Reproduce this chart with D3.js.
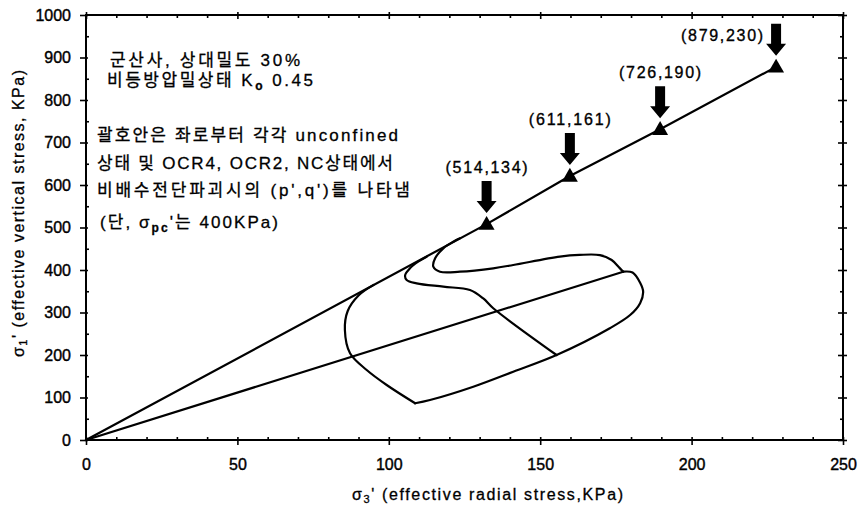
<!DOCTYPE html>
<html><head><meta charset="utf-8">
<script src="https://cdn.jsdelivr.net/npm/d3@7"></script>
<style>body{margin:0;background:#fff}svg{display:block}</style>
</head><body><svg id="c" width="861" height="512"></svg>
<script>
// ---- data (σ3', σ1') in kPa ----
const xTicks = [0, 50, 100, 150, 200, 250];
const yTicks = [0, 100, 200, 300, 400, 500, 600, 700, 800, 900, 1000];
const koLine = [[0, 0], [177.4, 396]];
const failS3 = [132.3, 159.8, 189.6, 227.9];
const failS1 = [508, 621, 731, 878];
const failLabels = ["(514,134)", "(611,161)", "(726,190)", "(879,230)"];
const unloadPath = [[177.4,396],[180.5,394],[183,370],[184,349],[183,322],[179.7,294],[173,263],[155.4,200],[141.1,160.7],[127.9,125.4],[113.6,94],[108.7,86.4]];
const ocr4Path = [[108.7,86.4],[99.3,129.4],[92.7,164.7],[87.2,204],[85.5,258.8],[86.4,303],[90,340],[95,365]];
const ocr2Path = [[155.4,200],[134.5,310],[131.2,333],[126.8,353],[118,360.7],[109.2,368.7],[105.9,376.5],[105.4,388],[107,404],[109.7,419.5],[112.5,431.3]];
const ncPath = [[177.4,396],[176.2,405],[173.6,423.5],[169.7,435],[163,435.5],[156.5,431.5],[141.1,411.8],[134.5,404],[123.5,396],[116.9,396],[114.7,407.8],[115.3,427.5],[118,451],[121.3,466.6],[123.5,474.6]];
const noteLines = [
  ["군산사, 상대밀도 30%"],
  ["비등방압밀상태 K", "o", " 0.45"],
  ["괄호안은 좌로부터 각각 unconfined"],
  ["상태 및 OCR4, OCR2, NC상태에서"],
  ["비배수전단파괴시의 (p',q')를 나타냄"],
  ["(단, σ", "pc", "'는 400KPa)"]
];

const svg = d3.select("#c");
const FONT = "'Liberation Sans', Arial, 'Noto Sans CJK KR', sans-serif";
svg.append("rect").attr("width",861).attr("height",512).attr("fill","#fff");

const x = d3.scaleLinear().domain([0,250]).range([86,843]);
const y = d3.scaleLinear().domain([0,1000]).range([440,15]);

const xMinor = d3.range(0,251,10).filter(v=>v%50);
const yMinor = d3.range(0,1001,50).filter(v=>v%100);

function axisG(axis, tr){
  const g = svg.append("g").attr("transform",tr).call(axis);
  g.select(".domain").remove();
  g.selectAll("line").attr("stroke","#000").attr("stroke-width",1.6);
  return g;
}
const B = "translate(0,440)", T = "translate(0,15)", L = "translate(86,0)", R = "translate(843,0)";
// bottom
const gb = axisG(d3.axisBottom(x).tickValues(xTicks).tickSize(5).tickFormat(d3.format("d")), B);
gb.selectAll("text").attr("y",30).attr("dy",0);
axisG(d3.axisBottom(x).tickValues(xTicks).tickSize(-3).tickFormat(""), B);
axisG(d3.axisBottom(x).tickValues(xMinor).tickSize(-3).tickFormat(""), B);
// top
axisG(d3.axisTop(x).tickValues(xTicks).tickSize(3).tickFormat(""), T);
axisG(d3.axisTop(x).tickValues(xTicks).tickSize(-4).tickFormat(""), T);
axisG(d3.axisTop(x).tickValues(xMinor).tickSize(-3).tickFormat(""), T);
// left
const gl = axisG(d3.axisLeft(y).tickValues(yTicks).tickSize(6).tickFormat(d3.format("d")), L);
gl.selectAll("text").attr("x",-15);
axisG(d3.axisLeft(y).tickValues(yTicks).tickSize(-2).tickFormat(""), L);
axisG(d3.axisLeft(y).tickValues(yMinor).tickSize(-3).tickFormat(""), L);
// right
axisG(d3.axisRight(y).tickValues(yTicks).tickSize(4).tickFormat(""), R);
axisG(d3.axisRight(y).tickValues(yTicks).tickSize(-5).tickFormat(""), R);
axisG(d3.axisRight(y).tickValues(yMinor).tickSize(-3).tickFormat(""), R);

svg.selectAll(".tick text").attr("font-family",FONT).attr("font-size",16).attr("fill","#000")
   .attr("stroke","#000").attr("stroke-width",0.4);

// frame
svg.append("rect").attr("x",x(0)).attr("y",y(1000)).attr("width",x(250)-x(0)).attr("height",y(0)-y(1000))
   .attr("fill","none").attr("stroke","#000").attr("stroke-width",2);

// lines
const smooth = d3.line().x(d=>x(d[0])).y(d=>y(d[1])).curve(d3.curveCatmullRom.alpha(0.5));
const straight = d3.line().x(d=>x(d[0])).y(d=>y(d[1]));
const failLine = [[0,0]].concat(failS3.map((s,i)=>[s, failS1[i]]));
const gLines = svg.append("g").attr("fill","none").attr("stroke","#000").attr("stroke-width",2.2)
   .attr("stroke-linejoin","round").attr("stroke-linecap","round");
gLines.append("path").attr("d", straight(koLine));
gLines.append("path").attr("d", straight(failLine));
[unloadPath, ocr4Path, ocr2Path, ncPath].forEach(p => gLines.append("path").attr("d", smooth(p)));

// triangles
svg.append("g").selectAll("path").data(failS3).join("path")
  .attr("transform",(d,i)=>`translate(${x(d)},${y(failS1[i])+1})`)
  .attr("d", d3.symbol(d3.symbolTriangle, 110))
  .attr("fill","#000");

// arrows
svg.append("g").selectAll("path").data(failS3).join("path")
  .attr("d",(d,i)=>{
    const cx = x(d), tip = y(failS1[i]) - 11, top = tip - 32, hl = 12, sw = 5, hw = 10;
    return `M${cx-sw},${top}L${cx+sw},${top}L${cx+sw},${tip-hl}L${cx+hw},${tip-hl}L${cx},${tip}L${cx-hw},${tip-hl}L${cx-sw},${tip-hl}Z`;
  }).attr("fill","#000");

// failure labels
svg.append("g").selectAll("text").data(failLabels).join("text")
  .attr("x",(d,i)=> i===3 ? x(failS3[i]) - 13 : x(failS3[i]))
  .attr("y",(d,i)=> i===3 ? y(failS1[i]) - 26 : y(failS1[i]) - 51)
  .attr("text-anchor",(d,i)=> i===3 ? "end" : "middle")
  .attr("textLength",82).attr("lengthAdjust","spacing")
  .attr("font-family",FONT).attr("font-size",16).attr("fill","#000")
  .attr("stroke","#000").attr("stroke-width",0.35)
  .text(d=>d);

// note text block
const notePos = [[110,66,190],[107,86,206],[97,141,301],[97,169,296],[97,196,313],[100,228,178]];
noteLines.forEach((parts,i)=>{
  const [tx,ty,tl] = notePos[i];
  const t = svg.append("text").attr("x",tx).attr("y",ty)
    .attr("font-family",FONT).attr("font-size",17).attr("fill","#000")
    .attr("stroke","#000").attr("stroke-width",0.3)
    .attr("textLength",tl).attr("lengthAdjust","spacing");
  parts.forEach((p,j)=>{
    const ts = t.append("tspan").text(p);
    if (j===1) ts.attr("font-size",12).attr("dy",4).attr("font-weight","bold");
    if (j===2) ts.attr("dy",-4);
  });
});

// axis titles
const xt = svg.append("text").attr("x",352).attr("y",500)
  .attr("font-family",FONT).attr("font-size",16).attr("fill","#000")
  .attr("stroke","#000").attr("stroke-width",0.3)
  .attr("textLength",271).attr("lengthAdjust","spacing");
xt.append("tspan").text("σ");
xt.append("tspan").text("3").attr("font-size",11).attr("dy",3);
xt.append("tspan").text("'  (effective radial stress,KPa)").attr("dy",-3);

const yt = svg.append("text").attr("transform","translate(24,357) rotate(-90)")
  .attr("font-family",FONT).attr("font-size",16).attr("fill","#000")
  .attr("stroke","#000").attr("stroke-width",0.3)
  .attr("textLength",287).attr("lengthAdjust","spacing");
yt.append("tspan").text("σ");
yt.append("tspan").text("1").attr("font-size",11).attr("dy",3);
yt.append("tspan").text("'   (effective vertical stress, KPa)").attr("dy",-3);
</script>
</body></html>
